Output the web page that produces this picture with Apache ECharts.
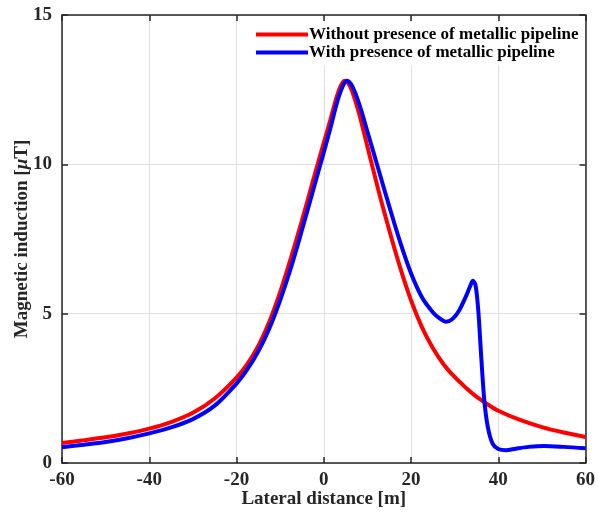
<!DOCTYPE html>
<html>
<head>
<meta charset="utf-8">
<script src="https://cdn.jsdelivr.net/npm/echarts@6/dist/echarts.min.js"></script>
<style>html,body{margin:0;padding:0;background:#fff;}#c{width:598px;height:520px;}</style>
</head>
<body>
<div id="c"></div>
<script>
const redName = 'Without presence of metallic pipeline';
const blueName = 'With presence of metallic pipeline';
const redX = [-60,-55,-50,-45,-40,-35,-30,-25,-20,-17.5,-15,-12.5,-10,-7.5,-5,-2.5,0,1.5,3,4,4.8,5.6,6.5,8,10,12.5,15,17.5,20,22.5,25,27.5,30,32.5,35,37.5,40,45,50,55,60];
const redY = [0.67,0.76,0.86,0.99,1.15,1.37,1.68,2.16,2.86,3.32,3.92,4.72,5.72,6.88,8.12,9.43,10.72,11.48,12.28,12.66,12.80,12.72,12.45,11.75,10.60,9.15,7.80,6.55,5.45,4.55,3.85,3.30,2.88,2.53,2.22,1.97,1.75,1.44,1.20,1.02,0.87];
const blueX = [-60,-55,-50,-45,-40,-35,-30,-25,-20,-17.5,-15,-12.5,-10,-7.5,-5,-2.5,0,1.5,3,4.3,5.3,6.2,7.2,8.5,10,12.5,15,17.5,20,22.5,25,26.5,28,29.5,31,32.5,33.5,34.2,34.8,35.4,36.1,36.8,37.6,38.7,40,41.8,44,47,50.5,55,60];
const blueY = [0.53,0.61,0.70,0.83,0.99,1.19,1.47,1.92,2.66,3.14,3.74,4.50,5.45,6.55,7.80,9.10,10.40,11.20,12.05,12.60,12.80,12.70,12.40,11.85,11.10,9.85,8.60,7.40,6.35,5.55,5.05,4.85,4.73,4.82,5.10,5.55,5.90,6.10,5.95,5.15,3.55,2.10,1.21,0.65,0.47,0.43,0.48,0.54,0.57,0.54,0.49];
const xTicks = [-60,-40,-20,0,20,40,60];
const yTicks = [0,5,10,15];

const pair = (xs, ys) => xs.map((x, i) => [x, ys[i]]);
const font = 'Liberation Serif';
const axisCol = '#262626';
const chart = echarts.init(document.getElementById('c'), null, {renderer: 'canvas'});
const baseAxis = {
  axisLine: {show: true, onZero: false, lineStyle: {color: axisCol, width: 1.5}},
  axisTick: {show: true, inside: true, length: 6, lineStyle: {color: axisCol, width: 1.5}},
};
chart.setOption({
  animation: false,
  backgroundColor: '#fff',
  grid: {left: 62, right: 9, top: 15, bottom: 57, containLabel: false},
  legend: {
    orient: 'vertical', left: 252, top: 22, itemWidth: 52, itemHeight: 4, itemGap: 1,
    icon: 'rect', backgroundColor: '#fff', padding: [4, 6, 4, 4],
    textStyle: {fontFamily: font, fontWeight: 'bold', fontSize: 17, color: '#000', padding: [0,0,0,-4]},
    data: [redName, blueName]
  },
  xAxis: [{
    ...baseAxis, type: 'value', min: xTicks[0], max: xTicks[xTicks.length-1], interval: 20,
    name: 'Lateral distance [m]', nameLocation: 'middle', nameGap: 27, nameMoveOverlap: false,
    nameTextStyle: {fontFamily: font, fontWeight: 'bold', fontSize: 19, color: axisCol},
    axisLabel: {fontFamily: font, fontWeight: 'bold', fontSize: 19, color: axisCol, margin: 8},
    splitLine: {show: true, lineStyle: {color: '#dfdfdf', width: 1}}
  }, {
    ...baseAxis, type: 'value', position: 'top', min: -60, max: 60, interval: 20,
    axisLabel: {show: false}, splitLine: {show: false}
  }],
  yAxis: [{
    ...baseAxis, type: 'value', min: yTicks[0], max: yTicks[yTicks.length-1], interval: 5,
    name: 'Magnetic induction [{i|μ}T]', nameLocation: 'middle', nameGap: 30, nameMoveOverlap: false,
    nameTextStyle: {fontFamily: font, fontWeight: 'bold', fontSize: 19, color: axisCol,
      rich: {i: {fontFamily: font, fontWeight: 'bold', fontStyle: 'italic', fontSize: 19, color: axisCol}}},
    axisLabel: {fontFamily: font, fontWeight: 'bold', fontSize: 19, color: axisCol, margin: 10},
    splitLine: {show: true, lineStyle: {color: '#dfdfdf', width: 1}}
  }, {
    ...baseAxis, type: 'value', position: 'right', min: 0, max: 15, interval: 5,
    axisLabel: {show: false}, splitLine: {show: false}
  }],
  series: [
    {name: redName, type: 'line', data: pair(redX, redY), smooth: 0.3, showSymbol: false,
     lineStyle: {color: '#ff0000', width: 4}, itemStyle: {color: '#ff0000'}, z: 2},
    {name: blueName, type: 'line', data: pair(blueX, blueY), smooth: 0.3, showSymbol: false,
     lineStyle: {color: '#0000ff', width: 4}, itemStyle: {color: '#0000ff'}, z: 3}
  ]
});
</script>
</body>
</html>
